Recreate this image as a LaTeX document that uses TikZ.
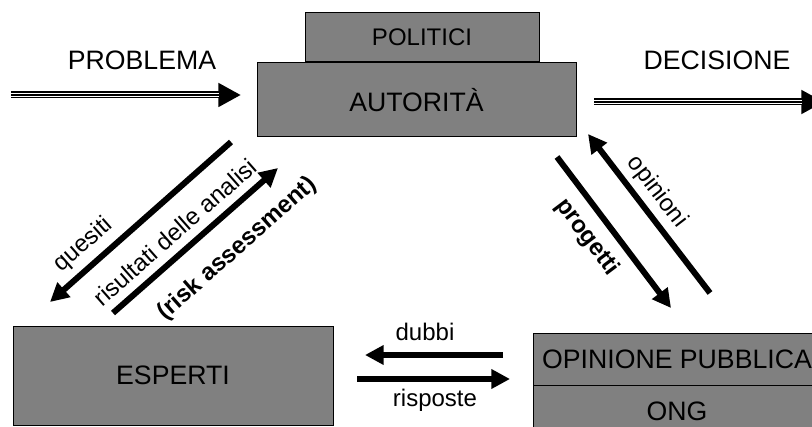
\documentclass[tikz,border=0pt]{standalone}
\usepackage{fontspec}
\setmainfont{Liberation Sans}
\usetikzlibrary{arrows.meta}

\begin{document}
\begin{tikzpicture}[
      x = .75pt, y = -.75pt,
      every node/.style = {font = \fontsize{20}{24}\selectfont},
      box/.style = {
        rectangle, draw = black, fill = gray, line width = .75pt,
        inner sep = 0pt, outer sep = 0pt},
      tag/.style = {font = \fontsize{18}{22}\selectfont, inner sep = 1pt},
      flow/.style = {
        line width = 4.5pt, -{Triangle[length = 14pt, width = 14pt]}},
      triple/.style = {
        line width = 5.25pt, -{Triangle[length = 17pt, width = 17pt]},
        postaction = {draw = white, line width = 3.45pt, shorten > = 16.5pt, -},
        postaction = {draw = black, line width = 1.65pt, shorten > = 16.5pt, -}}
      ]
    \useasboundingbox (0,0) rectangle (812,427);
    % boxes
    \node[box, minimum width = 175.5pt, minimum height = 36.75pt,
      font = \fontsize{18}{22}\selectfont] (pol) at (422,37.5) {POLITICI};
    \node[box, minimum width = 239.25pt, minimum height = 55.5pt] (aut) at (416.5,100) {AUTORITÀ};
    \node[box, minimum width = 240pt, minimum height = 74.25pt] (esp) at (173,375.5) {ESPERTI};
    \node[box, minimum width = 216pt, minimum height = 39pt] (opi) at (677,359) {OPINIONE PUBBLICA};
    \node[box, minimum width = 216pt, minimum height = 39pt] (ong) at (677,411) {ONG};
    % arrow ends
    \coordinate (in0) at (11,95);   \coordinate (in1) at (241,95);
    \coordinate (out0) at (594,102); \coordinate (out1) at (824,102);
    \coordinate (q0) at (231,142);  \coordinate (q1) at (50,302);  % quesiti
    \coordinate (r0) at (113,313);  \coordinate (r1) at (278,168); % risultati
    \coordinate (p0) at (557,157);  \coordinate (p1) at (671,308); % progetti
    \coordinate (o0) at (710,293);  \coordinate (o1) at (588,134); % opinioni
    \coordinate (d0) at (503,355);  \coordinate (d1) at (365,355); % dubbi
    \coordinate (s0) at (357,379);  \coordinate (s1) at (510,379); % risposte
    % labels
    \node (problema) at (142,60) {PROBLEMA};
    \node (decisione) at (717,60) {DECISIONE};
    \node[tag, rotate = 41.4] (quesiti) at (83,245) {quesiti};
    \node[tag, rotate = 41.4] (risultati) at (175,232) {risultati delle analisi};
    \node[tag, rotate = 41.4] (risk) at (237,249) {\textbf{(risk assessment)}};
    \node[tag, rotate = -53] (progetti) at (587,237) {\textbf{progetti}};
    \node[tag, rotate = -52.5] (opinioni) at (657,192) {opinioni};
    \node[tag] (dubbi) at (425,332) {dubbi};
    \node[tag] (risposte) at (435,400) {risposte};
    % connectors
    \draw[triple] (in0) -- (in1);
    \draw[triple] (out0) -- (out1);
    \draw[flow] (q0) -- (q1);
    \draw[flow] (r0) -- (r1);
    \draw[flow] (p0) -- (p1);
    \draw[flow] (o0) -- (o1);
    \draw[flow] (d0) -- (d1);
    \draw[flow] (s0) -- (s1);
  \end{tikzpicture}
\end{document}
